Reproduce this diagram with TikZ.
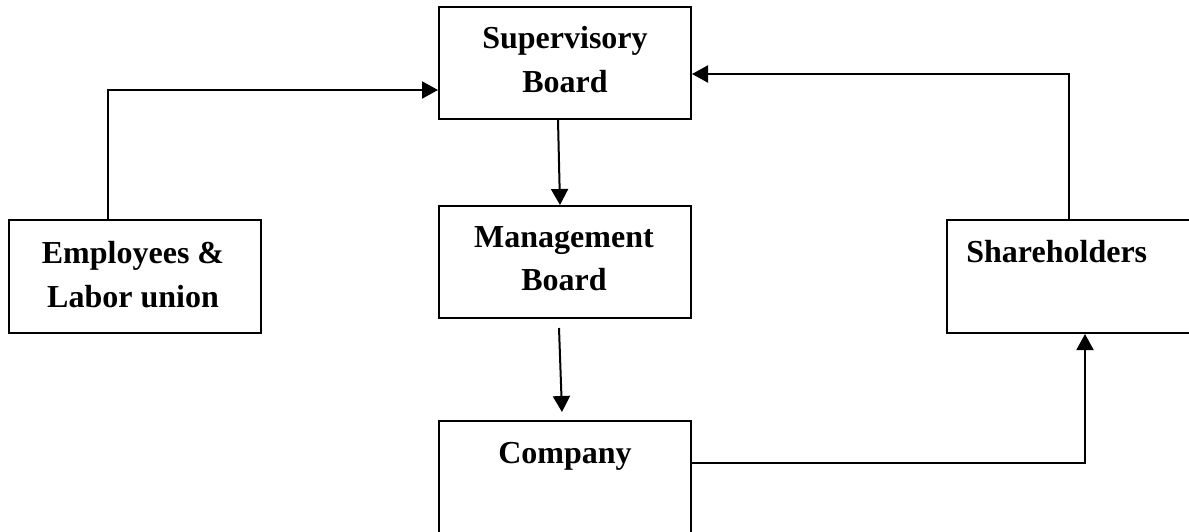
\documentclass[tikz,border=0pt]{standalone}
\usepackage{fontspec}
\setmainfont{Liberation Serif}
\usetikzlibrary{arrows.meta,calc}
\begin{document}
\begin{tikzpicture}[x=0.5pt,y=-0.5pt,
  box/.style={draw,line width=1pt,inner sep=0pt,minimum width=126pt,minimum height=56pt},
  txt/.style={font=\fontsize{16}{20}\selectfont\bfseries,inner sep=0pt,anchor=base},
  arr/.style={line width=1pt,-{Triangle[length=8pt,width=8.5pt]}}]
\useasboundingbox (0,0) rectangle (1189,531);
\clip (0,0) rectangle (1189,531);
% boxes
\node[box] (sup) at (565,63) {};
\node[box] (man) at (565,262) {};
\node[box,minimum height=59.5pt] (comp) at (565,480.5) {};
\node[box,minimum height=56.5pt] (emp) at (135,276.5) {};
\node[box,minimum width=131.5pt,minimum height=56.5pt] (sh) at (1078.5,276.5) {};
% texts
\node[txt] (sup1) at (565,48) {Supervisory};
\node[txt] (sup2) at (565,92) {Board};
\node[txt] (man1) at (564,247) {Management};
\node[txt] (man2) at (564,290) {Board};
\node[txt] (comp1) at (565,463) {Company};
\node[txt] (emp1) at (133,263) {Employees \&};
\node[txt] (emp2) at (133,307) {Labor union};
\node[txt,anchor=base west] (sh1) at (966,262) {Shareholders};
% helper coordinates
\coordinate (e1) at (108,90);
\coordinate (s1) at (1069,74);
\coordinate (a1) at (558,0);
\coordinate (a2) at (560,0);
\coordinate (c1) at (1085,463);
% connectors
\draw[arr] (emp.north -| e1) |- (sup.west |- e1);
\draw[arr] (sh.north -| s1) |- (sup.east |- s1);
\draw[arr] (sup.south -| a1) -- (man.north -| a2);
\draw[arr] ($(man.south)+(-3pt,-4.5pt)$) -- ($(comp.north)+(-1.5pt,4pt)$);
\draw[arr] (comp.east |- c1) -| (sh.south -| c1);
\end{tikzpicture}
\end{document}
